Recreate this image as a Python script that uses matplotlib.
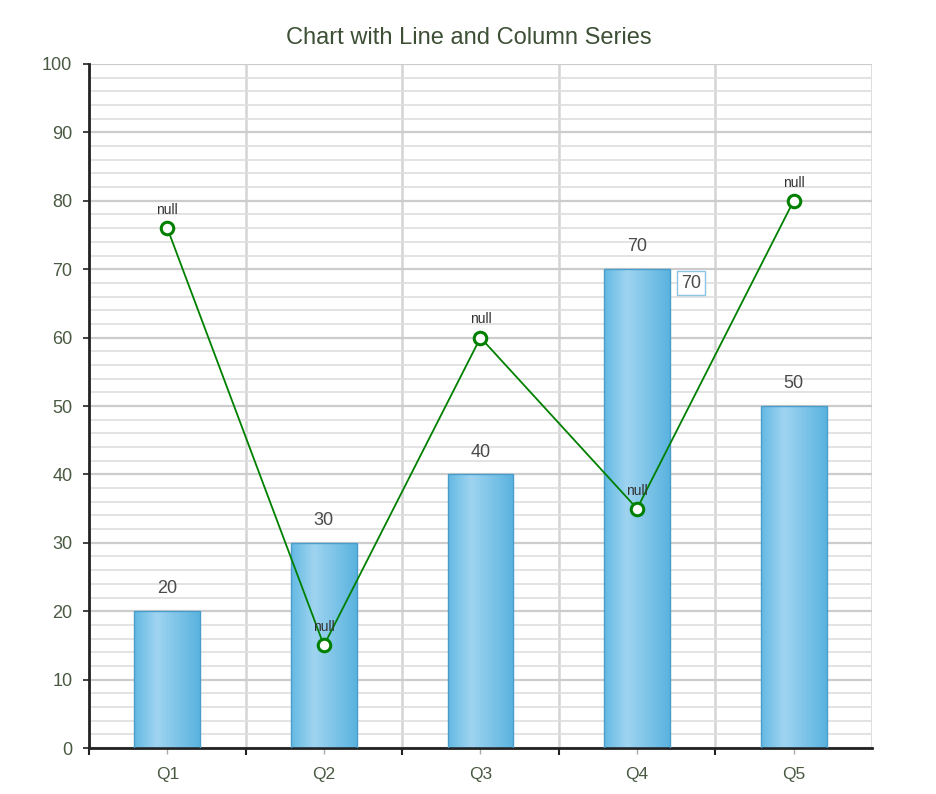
import matplotlib
matplotlib.use("Agg")
import matplotlib.pyplot as plt
import numpy as np
from matplotlib.colors import LinearSegmentedColormap
from matplotlib.ticker import MultipleLocator, FixedLocator, NullFormatter

plt.rcParams['font.family'] = ['Liberation Sans', 'DejaVu Sans']

categories = ["Q1", "Q2", "Q3", "Q4", "Q5"]
column_values = [20, 30, 40, 70, 50]
line_values = [76, 15, 60, 35, 80]
line_labels = ["null", "null", "null", "null", "null"]
title = "Chart with Line and Column Series"

fig = plt.figure(figsize=(9.37, 7.94), dpi=100)
ax = fig.add_axes([0.095, 0.0579, 0.8356, 0.8615])

x = np.arange(len(categories))
bw = 0.42
ax.set_xlim(-0.5, len(categories) - 0.5)
ax.set_ylim(0, 100)

# grid
ax.yaxis.set_major_locator(MultipleLocator(10))
ax.yaxis.set_minor_locator(MultipleLocator(2))
ax.xaxis.set_major_locator(FixedLocator(x - 0.5))
ax.xaxis.set_major_formatter(NullFormatter())
ax.set_xticks(x, categories, minor=True)
ax.grid(which='major', axis='y', color='#cccccc', linewidth=1.6, zorder=0)
ax.grid(which='minor', axis='y', color='#dedede', linewidth=1.2, zorder=0)
for xv in list(x - 0.5) + [len(categories) - 0.5]:
    ax.axvline(xv, color='#d4d4d4', linewidth=1.8, zorder=0.5)
ax.set_axisbelow(True)

for s in ['top', 'right']:
    ax.spines[s].set_visible(False)
for s in ['left', 'bottom']:
    ax.spines[s].set_color('#222222')
    ax.spines[s].set_linewidth(2)

ax.tick_params(axis='y', which='major', length=4, width=1.2, color='#222222',
               labelsize=13, labelcolor='#4a5a42', pad=8)
ax.tick_params(axis='y', which='minor', length=0)
ax.tick_params(axis='x', which='major', length=5, width=1.5, color='#222222')
ax.tick_params(axis='x', which='minor', length=4, width=1, color='#aaaaaa',
               labelsize=12.5, labelcolor='#4a5a42', pad=10)

# gradient bars
cmap = LinearSegmentedColormap.from_list(
    'bar', [(0, '#63b9e3'), (0.35, '#9fd4f0'), (1.0, '#59b3df')])
grad = np.linspace(0, 1, 256).reshape(1, -1)
bars = ax.bar(x, column_values, width=bw, color='none', edgecolor='#4a9ccb',
              linewidth=1, zorder=3)
for b in bars:
    x0, y0 = b.get_x(), b.get_y()
    w, h = b.get_width(), b.get_height()
    im = ax.imshow(grad, extent=[x0, x0 + w, y0, y0 + h], aspect='auto',
                   cmap=cmap, zorder=2.5, interpolation='bicubic')
    im.set_clip_path(b)
for xi, v in zip(x, column_values):
    ax.annotate(str(v), (xi, v), xytext=(0, 10), textcoords='offset points',
                ha='center', va='bottom', fontsize=13, color='#4a4a4a', zorder=6)

# extra boxed label on Q4
ax.annotate(str(column_values[3]), (x[3] + bw / 2, column_values[3]),
            xytext=(8, -10), textcoords='offset points', ha='left', va='center',
            fontsize=13, color='#4a4a4a', zorder=6,
            bbox=dict(boxstyle='square,pad=0.2', fc='white', ec='#8cc4e4', lw=1))

# line series
ax.plot(x, line_values, color='#008000', linewidth=1.3, marker='o',
        markersize=9, markerfacecolor='white', markeredgecolor='#008000',
        markeredgewidth=2.2, zorder=5)
for xi, v, lab in zip(x, line_values, line_labels):
    ax.annotate(lab, (xi, v), xytext=(0, 8), textcoords='offset points',
                ha='center', va='bottom', fontsize=10, color='#333333', zorder=6)

fig.text(0.5, 0.952, title, ha='center', va='center', fontsize=17, color='#3d4f35')

fig.savefig('out.png', dpi=100)
